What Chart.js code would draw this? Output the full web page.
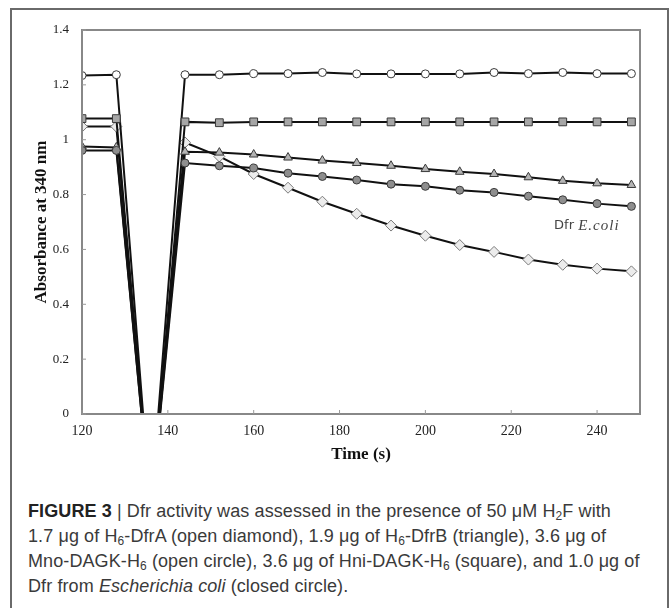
<!DOCTYPE html>
<html>
<head>
<meta charset="utf-8">
<script src="https://cdn.jsdelivr.net/npm/chart.js@4/dist/chart.umd.min.js"></script>
<style>
  body { margin: 0; background: #fff; width: 670px; height: 608px; overflow: hidden; position: relative; }
  #frame { position: absolute; left: 10px; top: 8px; width: 659px; height: 640px; border: 2px solid #6a6a6a; box-sizing: border-box; }
  #wrap { position: absolute; left: 0; top: 0; width: 670px; height: 470px; }
  #caption { position: absolute; left: 28px; top: 499px; width: 636px; font-family: "Liberation Sans", Arial, sans-serif; font-size: 18px; letter-spacing: 0.1px; line-height: 25px; color: #3a3a3a; white-space: nowrap; }
  #caption b { color: #222; }
  #caption sub { font-size: 12px; line-height: 0; vertical-align: -3px; }
</style>
</head>
<body>
<div id="frame"></div>
<div id="wrap"><canvas id="myChart"></canvas></div>
<div id="caption">
  <b>FIGURE 3</b> | Dfr activity was assessed in the presence of 50 μM H<sub>2</sub>F with<br>
  1.7 μg of H<sub>6</sub>-DfrA (open diamond), 1.9 μg of H<sub>6</sub>-DfrB (triangle), 3.6 μg of<br>
  Mno-DAGK-H<sub>6</sub> (open circle), 3.6 μg of Hni-DAGK-H<sub>6</sub> (square), and 1.0 μg of<br>
  Dfr from <i>Escherichia coli</i> (closed circle).
</div>
<script>
// 時間點 (s)
const times = [120, 128, 136, 144, 152, 160, 168, 176, 184, 192, 200, 208, 216, 224, 232, 240, 248];

// 各組吸光值
const openCircle   = [1.234, 1.237, -0.35, 1.237, 1.237, 1.241, 1.241, 1.245, 1.240, 1.240, 1.240, 1.240, 1.245, 1.241, 1.245, 1.241, 1.241];
const square       = [1.077, 1.077, -0.35, 1.065, 1.062, 1.065, 1.065, 1.065, 1.065, 1.065, 1.065, 1.065, 1.065, 1.065, 1.065, 1.065, 1.065];
const triangle     = [0.975, 0.972, -0.35, 0.956, 0.953, 0.946, 0.935, 0.924, 0.915, 0.905, 0.893, 0.883, 0.875, 0.863, 0.850, 0.841, 0.835];
const closedCircle = [0.961, 0.961, -0.35, 0.915, 0.905, 0.897, 0.878, 0.866, 0.853, 0.838, 0.830, 0.816, 0.808, 0.794, 0.781, 0.767, 0.757];
const openDiamond  = [1.048, 1.048, -0.35, 0.990, 0.939, 0.875, 0.825, 0.774, 0.730, 0.687, 0.650, 0.616, 0.591, 0.563, 0.544, 0.530, 0.520];

// 刻度
const xTicks = [120, 140, 160, 180, 200, 220, 240];
const yTicks = [0, 0.2, 0.4, 0.6, 0.8, 1, 1.2, 1.4];

// 圖中標註
const noteX = 237.5;
const noteY = 0.686;

function series(label, values, style, fill, radius) {
  return {
    label: label,
    data: times.map((t, i) => ({ x: t, y: values[i] })),
    borderColor: '#111',
    borderWidth: 2,
    pointStyle: style,
    pointRadius: radius,
    pointBackgroundColor: fill,
    pointBorderColor: '#3a3a3a',
    pointBorderWidth: 1,
    tension: 0
  };
}

// 外框、內側刻度與標註
const decor = {
  id: 'decor',
  afterDraw(chart) {
    const ctx = chart.ctx;
    const a = chart.chartArea;
    const x = chart.scales.x, y = chart.scales.y;
    ctx.save();
    ctx.strokeStyle = '#888';
    ctx.lineWidth = 2;
    ctx.strokeRect(a.left, a.top, a.right - a.left, a.bottom - a.top);
    ctx.lineWidth = 1;
    ctx.strokeStyle = '#999';
    xTicks.forEach(v => {
      const px = x.getPixelForValue(v);
      ctx.beginPath(); ctx.moveTo(px, a.bottom); ctx.lineTo(px, a.bottom - 4); ctx.stroke();
    });
    yTicks.forEach(v => {
      const py = y.getPixelForValue(v);
      ctx.beginPath(); ctx.moveTo(a.left, py); ctx.lineTo(a.left + 4, py); ctx.stroke();
    });
    // Dfr E.coli
    const px = x.getPixelForValue(noteX), py = y.getPixelForValue(noteY);
    ctx.fillStyle = '#444';
    ctx.textBaseline = 'middle';
    ctx.font = '13px "DejaVu Sans", sans-serif';
    const w1 = ctx.measureText('Dfr ').width;
    ctx.font = 'italic 15px "Liberation Serif", serif';
    const w2 = ctx.measureText('E.coli').width + 5;
    const start = px - (w1 + w2) / 2;
    ctx.font = '13px "DejaVu Sans", sans-serif';
    ctx.fillText('Dfr ', start, py);
    ctx.font = 'italic 15px "Liberation Serif", serif';
    ctx.letterSpacing = '1px';
    ctx.fillText('E.coli', start + w1, py);
    ctx.restore();
  }
};

document.addEventListener('DOMContentLoaded', function() {
  const data1 = {
    datasets: [
      series('Dfr E. coli', closedCircle, 'circle', '#8e8e8e', 4),
      series('H6-DfrB', triangle, 'triangle', '#b4b4b4', 5),
      series('Hni-DAGK-H6', square, 'rect', '#a6a6a6', 5.5),
      series('Mno-DAGK-H6', openCircle, 'circle', '#ffffff', 4),
      series('H6-DfrA', openDiamond, 'rectRot', '#ececec', 5.5)
    ]
  };
  data1.datasets[4].pointBorderColor = '#7a7a7a';

  const config = {
    type: 'line',
    data: data1,
    options: {
      responsive: true,
      maintainAspectRatio: false,
      animation: false,
      layout: { padding: { left: 31, right: 30, top: 30, bottom: 5 } },
      plugins: {
        legend: { display: false },
        tooltip: { enabled: false }
      },
      scales: {
        x: {
          type: 'linear',
          min: 120,
          max: 250,
          afterBuildTicks: axis => { axis.ticks = xTicks.map(v => ({ value: v })); },
          afterFit: axis => { axis.height = 51; },
          grid: { display: false, drawTicks: false },
          border: { display: false },
          ticks: { color: '#222', padding: 9, font: { family: '"Liberation Serif", serif', size: 14 } },
          title: {
            display: true, text: 'Time (s)', color: '#111', padding: { top: 0, bottom: 0 },
            font: { family: '"Liberation Serif", serif', size: 17, weight: 'bold' }
          }
        },
        y: {
          min: 0,
          max: 1.4,
          afterBuildTicks: axis => { axis.ticks = yTicks.map(v => ({ value: v })); },
          afterFit: axis => { axis.width = 51; },
          grid: { display: false, drawTicks: false },
          border: { display: false },
          ticks: {
            color: '#222', padding: 13, font: { family: '"Liberation Serif", serif', size: 13 },
            callback: v => String(v)
          },
          title: {
            display: true, text: 'Absorbance at 340 nm', color: '#111', padding: { top: 0, bottom: 0 },
            font: { family: '"Liberation Serif", serif', size: 17, weight: 'bold' }
          }
        }
      }
    },
    plugins: [decor]
  };

  const ctx = document.getElementById('myChart').getContext('2d');
  new Chart(ctx, config);
});
</script>
</body>
</html>
